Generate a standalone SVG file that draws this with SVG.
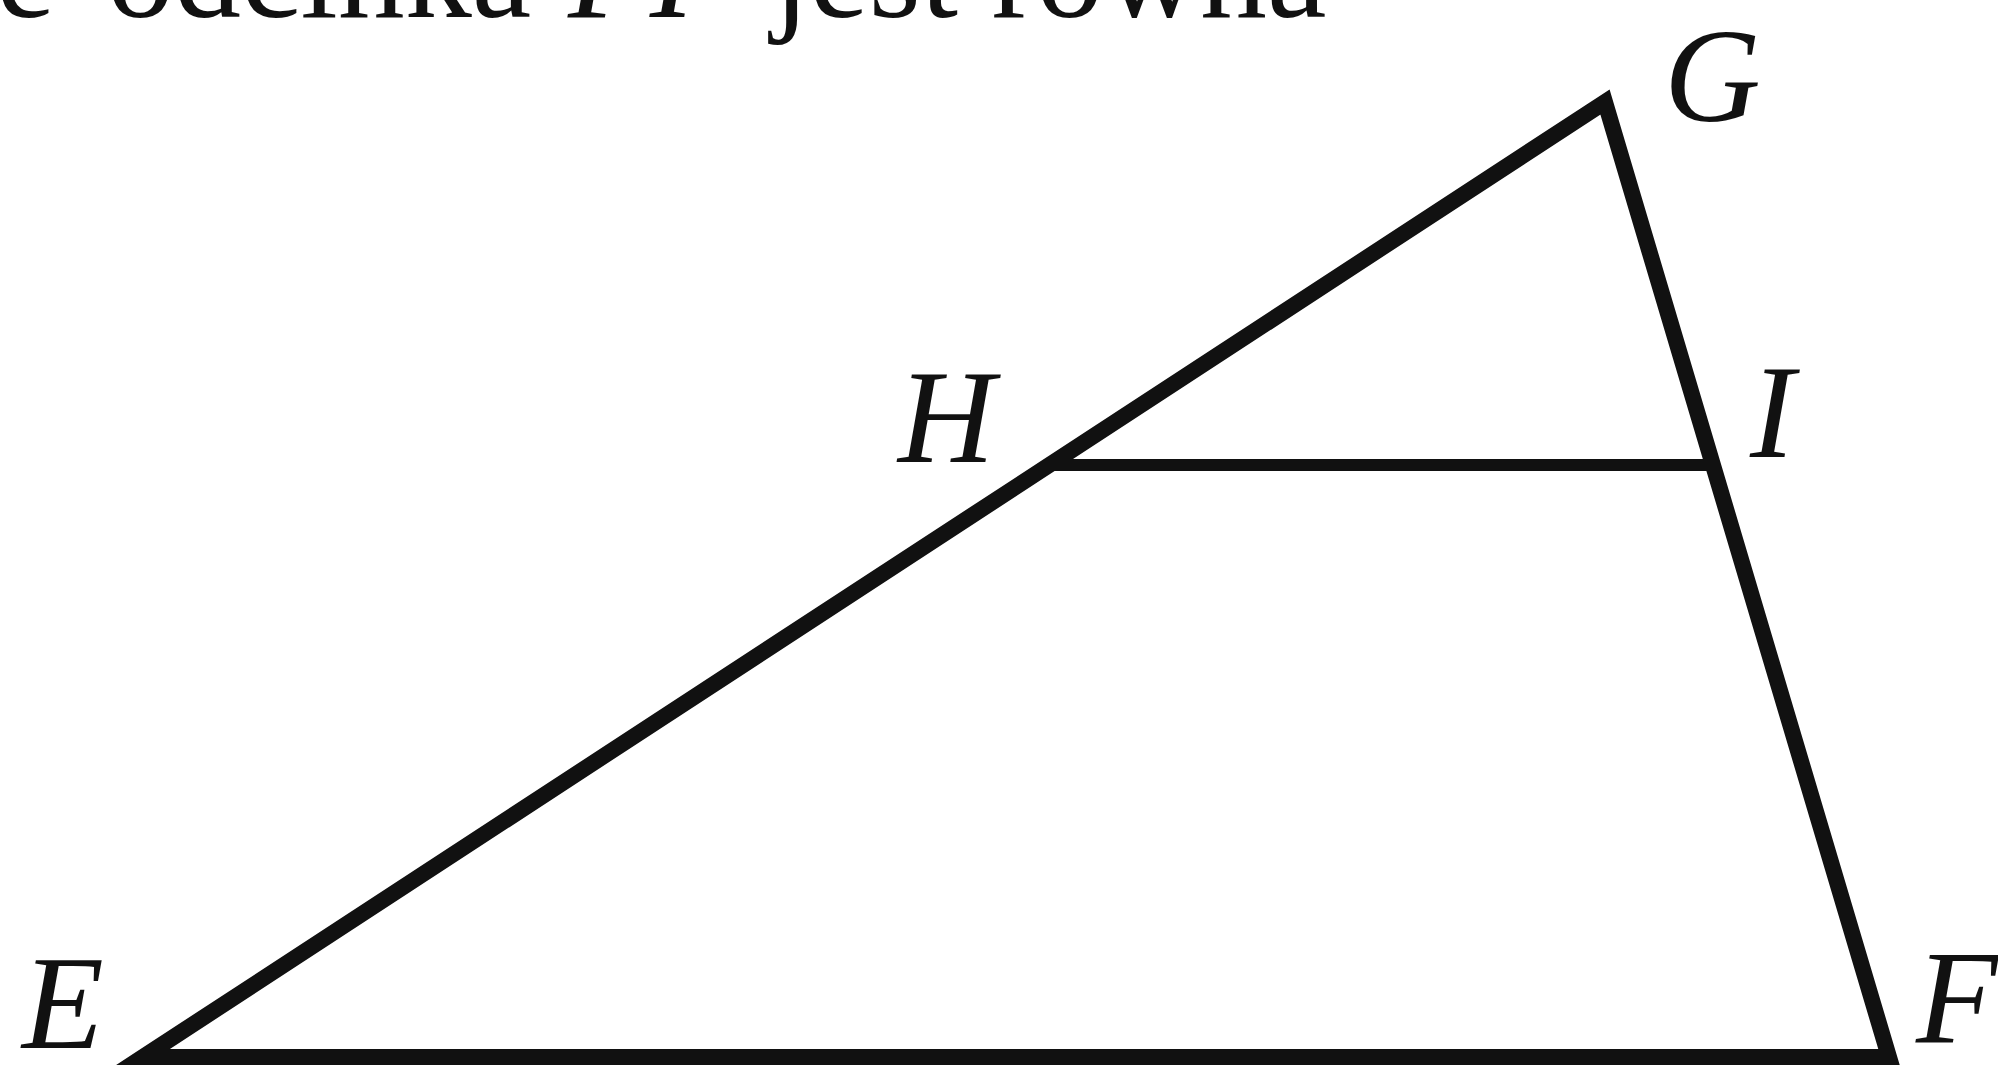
<svg xmlns="http://www.w3.org/2000/svg" width="1998" height="1069" viewBox="0 0 1998 1069">
<style>
.t{font-family:'Liberation Serif','Times New Roman',Tinos,Times,serif;font-size:134px;fill:#111}
.i{font-style:italic}
.ln{stroke:#111;fill:none;stroke-linejoin:miter;stroke-miterlimit:10}
</style>
<rect width="1998" height="1069" fill="#fff"/>
<text class="t" y="17"><tspan x="-4">e</tspan><tspan x="107">odcinka</tspan><tspan x="568" class="i">FI</tspan><tspan x="772">jest równa</tspan></text>
<g id="connectors">
<polygon class="ln" stroke-width="16" points="143,1057 1605,102 1889,1057"/>
<line class="ln" stroke-width="12" x1="1049" y1="465" x2="1713" y2="465"/>
</g>
<g id="E"><text class="t i" x="22" y="1048">E</text></g>
<g id="F"><text class="t i" x="1916" y="1042">F</text></g>
<g id="G"><text class="t i" x="1664" y="121">G</text></g>
<g id="H"><text class="t i" x="898" y="462">H</text></g>
<g id="I"><text class="t i" x="1750" y="457">I</text></g>
</svg>
